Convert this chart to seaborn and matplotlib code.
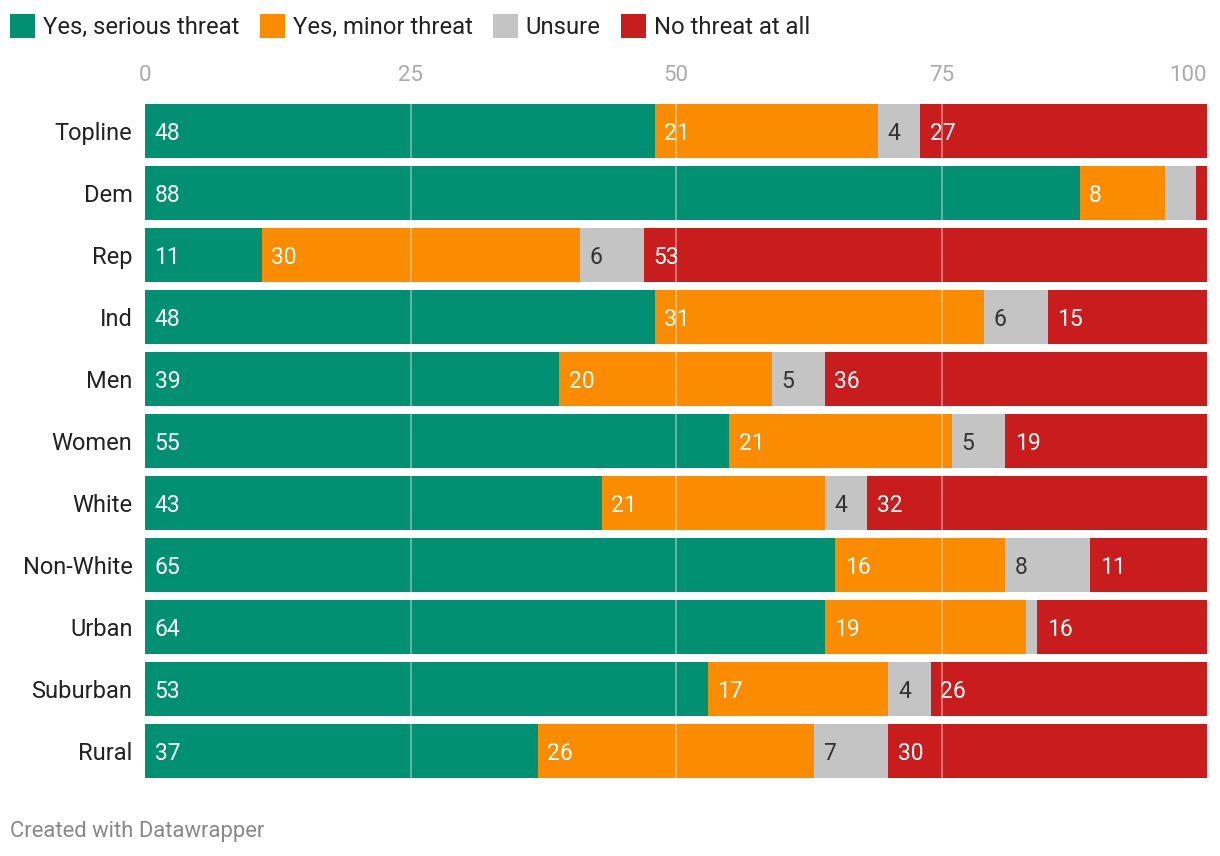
import matplotlib
matplotlib.use("Agg")
import matplotlib.pyplot as plt
import seaborn as sns
import pandas as pd
import numpy as np
from matplotlib.patches import Patch

categories = ["Topline", "Dem", "Rep", "Ind", "Men", "Women", "White",
              "Non-White", "Urban", "Suburban", "Rural"]
serious = [48, 88, 11, 48, 39, 55, 43, 65, 64, 53, 37]
minor = [21, 8, 30, 31, 20, 21, 21, 16, 19, 17, 26]
unsure = [4, 3, 6, 6, 5, 5, 4, 8, 1, 4, 7]
no_threat = [27, 1, 53, 15, 36, 19, 32, 11, 16, 26, 30]

series_names = ["Yes, serious threat", "Yes, minor threat", "Unsure", "No threat at all"]
series_values = [serious, minor, unsure, no_threat]
colors = ["#029073", "#fb8c00", "#c4c4c4", "#c91d1d"]
label_colors = ["white", "white", "#333333", "white"]
x_ticks = [0, 25, 50, 75, 100]

sns.set_theme(style="white")
plt.rcParams["font.family"] = ["Roboto", "DejaVu Sans"]

fig = plt.figure(figsize=(12.2, 8.56), dpi=100)
W, H = 1220, 856
ax = fig.add_axes([145 / W, 1 - 782 / H, (1207 - 145) / W, (782 - 100) / H])

vals = np.array(series_values, dtype=float)
cum = np.cumsum(vals, axis=0)
starts = cum - vals

# draw back to front using cumulative totals
for i in range(len(series_names) - 1, -1, -1):
    df = pd.DataFrame({"cat": categories, "val": cum[i]})
    sns.barplot(data=df, x="val", y="cat", color=colors[i], width=0.87,
                saturation=1, ax=ax, zorder=2, linewidth=0)

ax.set_xlim(0, 100)
ax.set_ylim(len(categories) - 0.5, -0.5)

# gridlines over bars
for t in x_ticks[1:-1]:
    ax.axvline(t, color="white", alpha=0.4, lw=1.3, zorder=3)

# value labels
for i in range(len(series_names)):
    for j in range(len(categories)):
        v = vals[i, j]
        if v >= 4:
            ax.text(starts[i, j] + 0.9, j, f"{int(v)}", va="center_baseline", ha="left",
                    color=label_colors[i], fontsize=16.5, zorder=4)

ax.xaxis.tick_top()
ax.set_xticks(x_ticks)
ax.set_xticklabels([str(t) for t in x_ticks])
ax.tick_params(axis="x", length=0, pad=10, labelsize=16, labelcolor="#aaaaaa")
ax.tick_params(axis="y", length=0, pad=9, labelsize=17, labelcolor="#222222")
ax.set_xlabel("")
ax.set_ylabel("")
for s in ax.spines.values():
    s.set_visible(False)
ax.get_xticklabels()[-1].set_horizontalalignment("right")

handles = [Patch(facecolor=c, edgecolor="none") for c in colors]
fig.legend(handles, series_names, loc="upper left", bbox_to_anchor=(10 / W, 1 - 14 / H),
           ncol=4, frameon=False, fontsize=17.2, handlelength=1.05, handleheight=1.15,
           handletextpad=0.33, columnspacing=0.85, borderaxespad=0, borderpad=0,
           labelcolor="#222222")

fig.text(10 / W, 1 - 831 / H, "Created with Datawrapper", fontsize=15.8, color="#888888",
         va="center", ha="left")

fig.savefig("out.png", dpi=100, facecolor="white")
